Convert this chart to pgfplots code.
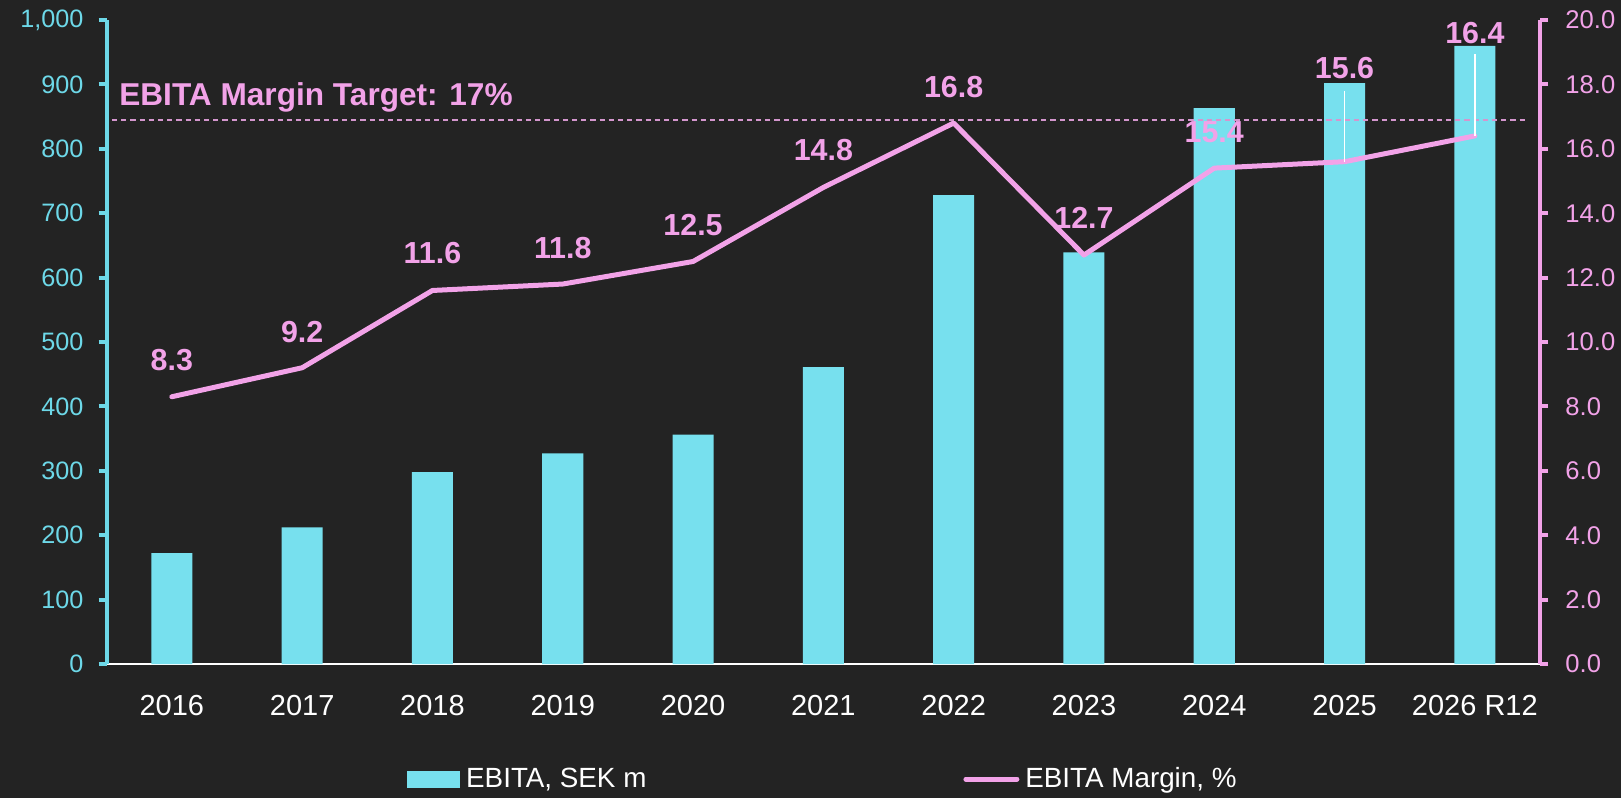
\documentclass[border=0pt]{standalone}
\usepackage{fontspec}
\setmainfont{Liberation Sans}
\usepackage{pgfplots}
\usepackage{pgfplotstable}
\pgfplotsset{compat=1.18}
\definecolor{bg}{HTML}{232323}
\definecolor{barc}{HTML}{77E0EE}
\definecolor{pinkl}{HTML}{F2A2E8}
\definecolor{cyanax}{HTML}{6DD8E8}
\definecolor{dashc}{HTML}{D496CE}

\pgfplotstableread{
x y
0 172
1 212
2 298
3 327
4 356
5 461
6 728
7 639
8 863
9 902
10 960
}\ebita

\pgfplotstableread{
x y
0 8.3
1 9.2
2 11.6
3 11.8
4 12.5
5 14.8
6 16.8
7 12.7
8 15.4
9 15.6
10 16.4
}\margin

\pgfplotstableread{
x ly lab
0 9.44 8.3
1 10.30 9.2
2 12.75 11.6
3 12.91 11.8
4 13.63 12.5
5 15.96 14.8
6 17.93 16.8
7 13.84 12.7
8 16.53 15.4
9 18.50 15.6
10 19.58 16.4
}\labels

\begin{document}
\begin{tikzpicture}
\fill[bg] (0,0) rectangle (810.5pt,399pt);
\path[use as bounding box] (0,0) rectangle (810.5pt,399pt);
\begin{axis}[
  at={(53.35pt,67pt)}, anchor=south west, scale only axis,
  width=716.65pt, height=322pt,
  xmin=-0.5, xmax=10.5, ymin=0, ymax=1000,
  axis x line*=bottom, axis y line*=left,
  x axis line style={white, line width=1pt, -},
  y axis line style={cyanax, line width=2pt, -},
  xtick={0,...,10},
  xticklabels={2016,2017,2018,2019,2020,2021,2022,2023,2024,2025,2026 R12},
  x tick style={draw=none},
  x tick label style={text=white, font=\fontsize{14.5}{16}\selectfont, anchor=north, inner sep=0pt, yshift=-11.5pt},
  ytick={0,100,...,1000},
  tick align=outside,
  major tick length=4pt,
  y tick style={cyanax, line width=2pt},
  y tick label style={text=cyanax, font=\fontsize{12.6}{14}\selectfont, anchor=east, inner sep=0pt, xshift=-7.4pt},
  /pgf/number format/.cd, 1000 sep={,}, assume math mode=true,
]
\addplot[ybar, bar width=0.315, fill=barc, draw=none] table[x=x, y=y] {\ebita};
\end{axis}
\begin{axis}[
  at={(53.35pt,67pt)}, anchor=south west, scale only axis,
  width=716.65pt, height=322pt,
  xmin=-0.5, xmax=10.5, ymin=0, ymax=20,
  axis x line=none, axis y line*=right,
  y axis line style={pinkl, line width=2pt, -},
  ytick={0,2,...,20},
  tick align=outside,
  major tick length=4pt,
  y tick style={pinkl, line width=2pt},
  y tick label style={text=pinkl, font=\fontsize{12.8}{14}\selectfont, anchor=west, inner sep=0pt, xshift=8.5pt,
    /pgf/number format/.cd, fixed, fixed zerofill, precision=1, assume math mode=true},
  legend columns=2,
  legend style={at={(0.2095,-0.1786)}, anchor=west, draw=none, fill=none, inner sep=0pt,
    text=white, font=\fontsize{13.9}{16}\selectfont,
    nodes={inner sep=0pt, anchor=west},
    /tikz/every odd column/.append style={column sep=3pt},
    /tikz/every even column/.append style={column sep=158.5pt}},
]
\addlegendimage{legend image code/.code={\fill[barc] (0pt,-4pt) rectangle (26pt,4pt);}}
\addlegendentry{EBITA, SEK m}
\addplot[pinkl, line width=2.5pt, line join=round, line cap=round,
  legend image code/.code={\draw[pinkl, line width=2.5pt, line cap=round] (1pt,0pt) -- (26.5pt,0pt);}]
  table[x=x, y=y] {\margin};
\addlegendentry{EBITA Margin, \%}
\addplot[dashc, line width=0.9pt, dash pattern=on 2.6pt off 2pt, forget plot]
  coordinates {(-0.46,16.9) (10.4,16.9)};
\addplot[white, line width=0.8pt, forget plot] coordinates {(9,17.8) (9,15.6)};
\addplot[white, line width=0.8pt, forget plot] coordinates {(10,18.94) (10,16.4)};
\addplot[draw=none, mark=none, forget plot, nodes near coords, point meta=explicit symbolic,
  nodes near coords style={anchor=center, inner sep=0pt, text=pinkl, font=\fontsize{15.2}{17}\selectfont\bfseries}]
  table[x=x, y=ly, meta=lab] {\labels};
\node[anchor=base west, inner sep=0pt, text=pinkl, font=\fontsize{15.8}{18}\selectfont\bfseries]
  at (axis cs:-0.406,17.35) {EBITA Margin Target: 17\%};
\end{axis}
\end{tikzpicture}
\end{document}
